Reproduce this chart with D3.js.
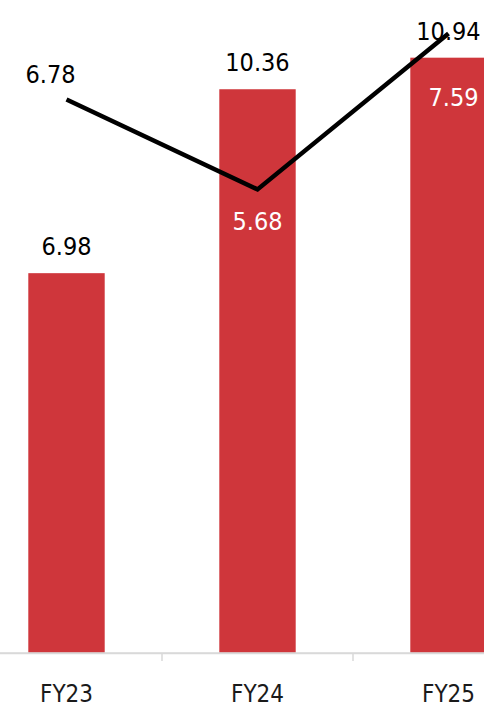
<!DOCTYPE html>
<html><head><meta charset="utf-8">
<script src="https://cdn.jsdelivr.net/npm/d3@7"></script>
<style>html,body{margin:0;padding:0;background:#fff;overflow:hidden}</style>
</head><body>
<svg id="c" width="484" height="707"></svg>
<script>
const categories = ["FY23", "FY24", "FY25"];
const barValues = [6.98, 10.36, 10.94];
const lineValues = [6.78, 5.68, 7.59];

// label placement (layout, not data)
const lineLabelLayout = [
  {dx: -16, dy: -17, fill: "#000"},
  {dx: 0, dy: 41, fill: "#fff"},
  {dx: 5, dy: 73, fill: "#fff"}
];

const svg = d3.select("#c");
const font = "'DejaVu Sans Condensed', 'DejaVu Sans', sans-serif";
const baseY = 653;

const x = d3.scaleBand().domain(categories).range([-29, 544]).padding(0);
const y = d3.scaleLinear().domain([0, 12]).range([baseY, 0]);
const y2 = d3.scaleLinear().domain([0, 8]).range([baseY, 0]);
const barW = x.bandwidth() * 0.4;
const cx = c => x(c) + x.bandwidth() / 2;

// bars
svg.selectAll("rect.bar").data(categories).join("rect")
  .attr("class", "bar")
  .attr("x", c => cx(c) - barW / 2)
  .attr("width", barW)
  .attr("y", (c, i) => y(barValues[i]))
  .attr("height", (c, i) => baseY - y(barValues[i]))
  .attr("fill", "#CF363B");

// x axis
const axisG = svg.append("g").attr("transform", `translate(0,${baseY})`)
  .call(d3.axisBottom(x).tickSize(0).tickPadding(32));
axisG.select(".domain").attr("stroke", "#D9D9D9").attr("stroke-width", 1.5);
axisG.selectAll(".tick text").attr("font-family", font).attr("font-size", 24).attr("fill", "#1a1a1a");
// band separators as ticks
const seps = categories.slice(1).map(c => x(c));
axisG.selectAll("line.sep").data(seps).join("line")
  .attr("class", "sep")
  .attr("x1", d => d).attr("x2", d => d)
  .attr("y1", 0).attr("y2", 8)
  .attr("stroke", "#D9D9D9").attr("stroke-width", 1.5);
axisG.append("line").attr("x1", 0).attr("x2", 484).attr("y1", 0).attr("y2", 0)
  .attr("stroke", "#D9D9D9").attr("stroke-width", 1.5);

// bar labels
svg.selectAll("text.blab").data(categories).join("text")
  .attr("class", "blab")
  .attr("x", c => cx(c))
  .attr("y", (c, i) => y(barValues[i]) - 18)
  .attr("text-anchor", "middle")
  .attr("font-family", font).attr("font-size", 25)
  .attr("fill", "#000")
  .text((c, i) => barValues[i].toFixed(2));

// line
const line = d3.line().x((d, i) => cx(categories[i])).y(d => y2(d));
svg.append("path").datum(lineValues)
  .attr("d", line)
  .attr("fill", "none")
  .attr("stroke", "#000")
  .attr("stroke-width", 4.5)
  .attr("stroke-linejoin", "miter");

// line labels
svg.selectAll("text.llab").data(lineValues).join("text")
  .attr("class", "llab")
  .attr("x", (d, i) => cx(categories[i]) + lineLabelLayout[i].dx)
  .attr("y", (d, i) => y2(d) + lineLabelLayout[i].dy)
  .attr("text-anchor", "middle")
  .attr("font-family", font).attr("font-size", 25)
  .attr("fill", (d, i) => lineLabelLayout[i].fill)
  .text(d => d.toFixed(2));
</script>
</body></html>
